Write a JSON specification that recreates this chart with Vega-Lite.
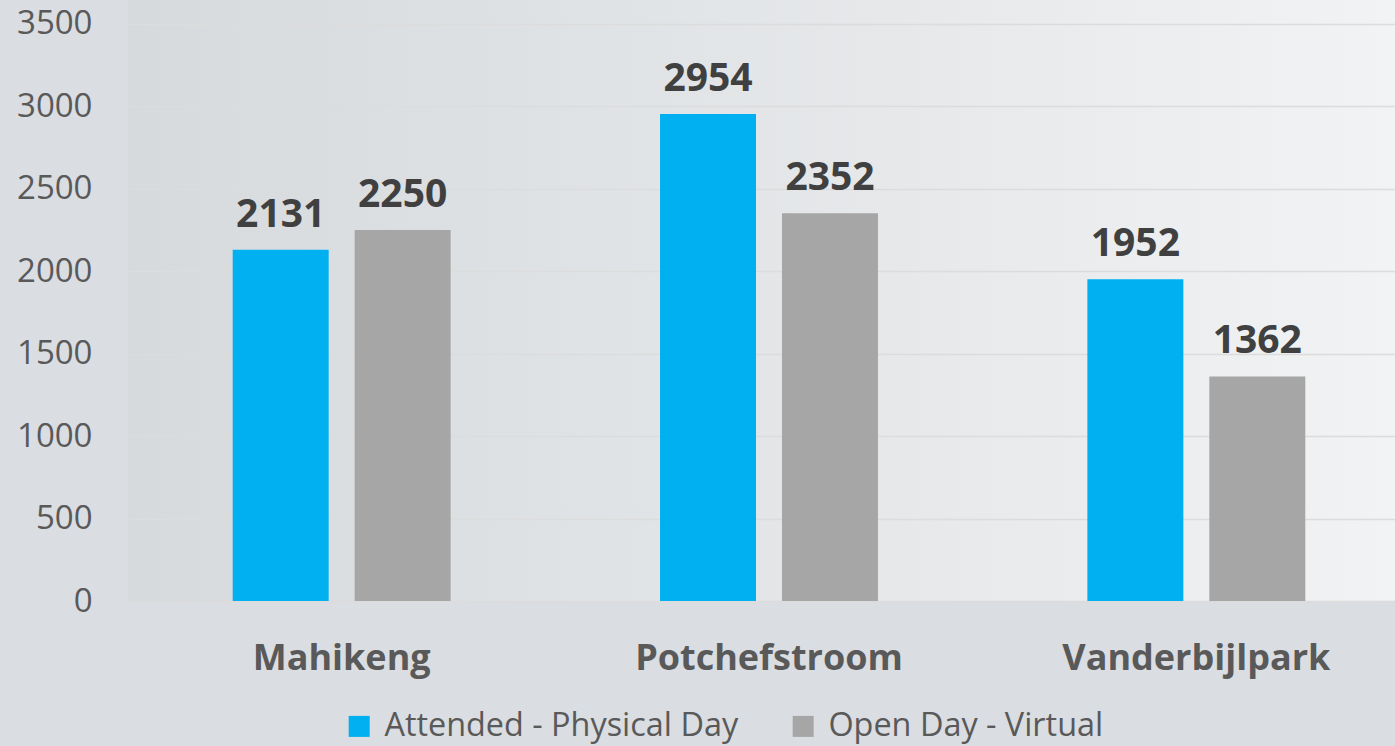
{
  "$schema": "https://vega.github.io/schema/vega-lite/v6.json",
  "width": 1282,
  "height": 601,
  "autosize": {"type": "none"},
  "padding": {"left": 128, "top": 0, "right": 0, "bottom": 145},
  "background": "#dadde1",
  "data": {
    "values": [
      {"campus": "Mahikeng", "series": "Attended - Physical Day", "value": 2131},
      {"campus": "Mahikeng", "series": "Open Day - Virtual", "value": 2250},
      {"campus": "Potchefstroom", "series": "Attended - Physical Day", "value": 2954},
      {"campus": "Potchefstroom", "series": "Open Day - Virtual", "value": 2352},
      {"campus": "Vanderbijlpark", "series": "Attended - Physical Day", "value": 1952},
      {"campus": "Vanderbijlpark", "series": "Open Day - Virtual", "value": 1362}
    ]
  },
  "encoding": {
    "x": {
      "field": "campus", "type": "nominal", "sort": null,
      "scale": {"paddingInner": 0.49, "paddingOuter": 0.245},
      "axis": {"title": null, "labelAngle": 0, "ticks": false, "domain": false, "labelLimit": 0,
        "labelFont": "Open Sans", "labelFontWeight": "bold", "labelFontSize": 36,
        "labelColor": "#595959", "labelPadding": 40, "labelBaseline": "top"}
    },
    "xOffset": {"field": "series", "type": "nominal", "sort": ["Attended - Physical Day", "Open Day - Virtual"],
      "scale": {"paddingInner": 0.213, "paddingOuter": 0}},
    "y": {
      "field": "value", "type": "quantitative",
      "scale": {"domain": [0, 3645], "nice": false},
      "axis": {"title": null, "values": [0, 500, 1000, 1500, 2000, 2500, 3000, 3500], "format": "d",
        "ticks": false, "domain": false, "grid": true, "gridColor": "#dcdcdc", "gridWidth": 1.5,
        "labelFont": "Open Sans", "labelFontSize": 33, "labelColor": "#595959", "labelPadding": 36}
    }
  },
  "layer": [
    {
      "mark": {"type": "bar"},
      "encoding": {
        "color": {"field": "series", "type": "nominal",
          "scale": {"domain": ["Attended - Physical Day", "Open Day - Virtual"], "range": ["#00b0f0", "#a6a6a6"]},
          "legend": {"title": null, "orient": "none", "direction": "horizontal", "legendX": 215, "legendY": 710,
            "symbolType": "square", "symbolSize": 441, "symbolStrokeWidth": 0, "symbolOpacity": 1, "labelLimit": 0,
            "labelFont": "Open Sans", "labelFontSize": 32.4, "labelColor": "#595959", "labelOffset": 9,
            "columnPadding": 48, "padding": 0}
        }
      }
    },
    {
      "mark": {"type": "text", "baseline": "alphabetic", "dy": -23, "font": "Open Sans", "fontWeight": "bold", "fontSize": 39, "color": "#404040"},
      "encoding": {"text": {"field": "value", "type": "quantitative"}}
    }
  ],
  "config": {
    "view": {"stroke": null, "fill": {"gradient": "linear", "x1": 0, "x2": 1, "y1": 0, "y2": 0, "stops": [{"offset": 0, "color": "#d6dadd"}, {"offset": 0.6, "color": "#e6e8ea"}, {"offset": 1, "color": "#f2f3f4"}]}}
  }
}
